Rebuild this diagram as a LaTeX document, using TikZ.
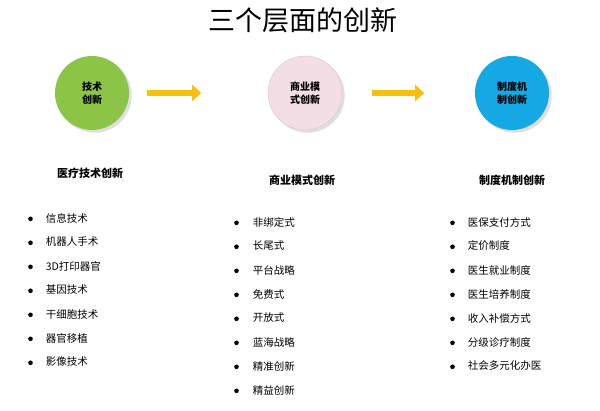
\documentclass[tikz,border=0pt]{standalone}
\usepackage{fontspec}
\setmainfont{Noto Sans CJK SC}
\usetikzlibrary{shadows, arrows.meta}
\definecolor{techgreen}{RGB}{140,196,72}
\definecolor{bizpink}{RGB}{242,222,228}
\definecolor{sysblue}{RGB}{20,168,228}
\definecolor{arrowyellow}{RGB}{250,190,20}
\newcommand{\dotmark}{\tikz[baseline=-3.2pt]\fill (0,0) circle (2.3pt);}
\tikzset{
  level/.style={circle, minimum size=74pt, inner sep=0pt, align=center,
    font=\fontsize{10}{13}\selectfont\bfseries, drop shadow={opacity=0.25}},
  head/.style={font=\fontsize{11}{13}\selectfont\bfseries},
  item/.style={anchor=west, font=\fontsize{10.5}{13}\selectfont, inner sep=0pt},
  flow/.style={line width=6pt, arrowyellow, -{Triangle[length=9pt,width=16pt]}}
}
\begin{document}
\begin{tikzpicture}[x=1pt,y=-1pt]
  \useasboundingbox[fill=white] (0,0) rectangle (600,410);
  % Title
  \node[font=\fontsize{27}{30}\selectfont] (title) at (303,20) {三个层面的创新};

  % Levels
  \node[level, fill=techgreen] (tech) at (92,93) {技术\\创新};
  \node[level, fill=bizpink, draw=gray!40] (biz) at (305,93) {商业模\\式创新};
  \node[level, fill=sysblue] (sys) at (512,93) {制度机\\制创新};
  \draw[flow] (tech.east) ++(18,0) coordinate (a1) -- ++(54,0) coordinate (a2);
  \draw[flow] (biz.east) ++(30,0) coordinate (b1) -- ++(52,0) coordinate (b2);

  % Headings
  \node[head] (h1) at (90,173) {医疗技术创新};
  \node[head] (h2) at (302,180) {商业模式创新};
  \node[head] (h3) at (512,180) {制度机制创新};

  % Lists
  \foreach \t [count=\i] in {信息技术,机器人手术,3D打印器官,基因技术,干细胞技术,器官移植,影像技术}
    \node[item] (l\i) at (28,218+24*\i-24) {\dotmark\hspace{13pt}\t};
  \foreach \t [count=\i] in {非绑定式,长尾式,平台战略,免费式,开放式,蓝海战略,精准创新,精益创新}
    \node[item] (m\i) at (234,222+24*\i-24) {\dotmark\hspace{14pt}\t};
  \foreach \t [count=\i] in {医保支付方式,定价制度,医生就业制度,医生培养制度,收入补偿方式,分级诊疗制度,社会多元化办医}
    \node[item] (r\i) at (450,222+24*\i-24) {\dotmark\hspace{13pt}\t};
\end{tikzpicture}
\end{document}
